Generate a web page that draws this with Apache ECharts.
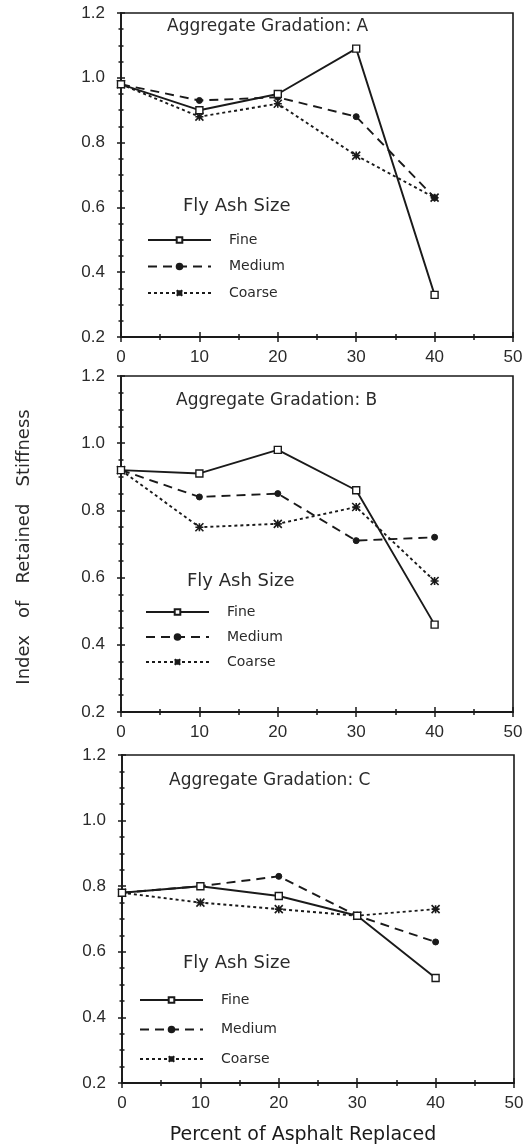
<!DOCTYPE html>
<html>
<head>
<meta charset="utf-8">
<script src="https://cdn.jsdelivr.net/npm/echarts@6/dist/echarts.min.js"></script>
<style>
  html, body { margin: 0; padding: 0; background: #fff; }
  #chart { width: 528px; height: 1148px; }
</style>
</head>
<body>
<div id="chart"></div>
<script>
// percent of asphalt replaced
const percentReplaced = [0, 10, 20, 30, 40];

// index of retained stiffness, per aggregate gradation
const fineA = [0.98, 0.90, 0.95, 1.09, 0.33];
const mediumA = [0.98, 0.93, 0.94, 0.88, 0.63];
const coarseA = [0.98, 0.88, 0.92, 0.76, 0.63];

const fineB = [0.92, 0.91, 0.98, 0.86, 0.46];
const mediumB = [0.92, 0.84, 0.85, 0.71, 0.72];
const coarseB = [0.92, 0.75, 0.76, 0.81, 0.59];

const fineC = [0.78, 0.80, 0.77, 0.71, 0.52];
const mediumC = [0.78, 0.80, 0.83, 0.71, 0.63];
const coarseC = [0.78, 0.75, 0.73, 0.71, 0.73];

const sizeNames = ["Fine", "Medium", "Coarse"];
const gradations = ["A", "B", "C"];

const ink = "#1a1a1a";
const font = "DejaVu Sans";
const numFont = "Liberation Sans";

// layout of the three stacked panels
const panels = [
  { top: 13, height: 324, left: 121, width: 392, series: [fineA, mediumA, coarseA],
    title: [167, 27], legendTitle: [183, 206], legend: [147, 233], gap: 12.5 },
  { top: 376, height: 336, left: 121, width: 392, series: [fineB, mediumB, coarseB],
    title: [176, 401], legendTitle: [187, 581], legend: [145, 605], gap: 11 },
  { top: 755, height: 328, left: 122, width: 392, series: [fineC, mediumC, coarseC],
    title: [169, 781], legendTitle: [183, 963], legend: [139, 993], gap: 15.5 },
];

const asterisk = "path://M0,0L10,10M10,0L0,10M0,5L10,5M5,0L5,10";

const styles = [
  { symbol: "rect", symbolSize: 7,
    itemStyle: { color: "#fff", borderColor: ink, borderWidth: 1.4 },
    lineStyle: { color: ink, width: 1.9, type: "solid" } },
  { symbol: "circle", symbolSize: 6,
    itemStyle: { color: ink, borderColor: ink, borderWidth: 1 },
    lineStyle: { color: ink, width: 1.9, type: [9, 6] } },
  { symbol: asterisk, symbolSize: 8,
    itemStyle: { color: ink, borderColor: ink, borderWidth: 1.6 },
    lineStyle: { color: ink, width: 1.9, type: [3, 3] } },
];

const grid = [], xAxis = [], yAxis = [], series = [], legend = [], graphic = [];

panels.forEach((p, i) => {
  grid.push({
    left: p.left, top: p.top, width: p.width, height: p.height,
    show: true, borderColor: ink, borderWidth: 1.6, backgroundColor: "transparent",
  });

  // main axis (labels, outside ticks) plus an overlay for the inside half of the ticks
  [false, true].forEach((inside) => {
    xAxis.push({
      gridIndex: i, type: "value", position: "bottom", min: 0, max: 50, interval: 10,
      axisLine: { show: !inside, lineStyle: { color: ink, width: 1.8 } },
      axisTick: { show: true, inside: inside, length: 5, lineStyle: { color: ink, width: 1.5 } },
      minorTick: { show: true, splitNumber: 2, length: 3, lineStyle: { color: ink, width: 1.5 } },
      splitLine: { show: false },
      axisLabel: { show: !inside, margin: 12, color: "#2a2a2a", fontFamily: numFont, fontSize: 17 },
    });
    yAxis.push({
      gridIndex: i, type: "value", position: "left", min: 0.2, max: 1.2, interval: 0.2,
      axisLine: { show: !inside, lineStyle: { color: ink, width: 1.8 } },
      axisTick: { show: true, inside: inside, length: 4, lineStyle: { color: ink, width: 1.5 } },
      minorTick: { show: true, splitNumber: 4, length: 2.5, lineStyle: { color: ink, width: 1.5 } },
      splitLine: { show: false },
      axisLabel: { show: !inside, margin: 16, color: "#2a2a2a", fontFamily: numFont, fontSize: 17,
        formatter: (v) => v.toFixed(1) },
    });
  });

  p.series.forEach((vals, k) => {
    series.push({
      name: sizeNames[k], type: "line", xAxisIndex: i * 2, yAxisIndex: i * 2,
      data: percentReplaced.map((x, j) => [x, vals[j]]),
      symbol: styles[k].symbol, symbolSize: styles[k].symbolSize,
      itemStyle: styles[k].itemStyle, lineStyle: styles[k].lineStyle,
      z: 3 - k, animation: false,
    });
  });

  legend.push({
    data: sizeNames, orient: "vertical", left: p.legend[0], top: p.legend[1], padding: 0,
    itemWidth: 63, itemHeight: 7, itemGap: p.gap, selectedMode: false,
    textStyle: { fontFamily: font, fontSize: 14, color: "#2a2a2a", padding: [0, 0, 0, 13] },
  });

  graphic.push({
    type: "text", x: p.title[0], y: p.title[1],
    style: { text: "Aggregate Gradation: " + gradations[i], font: "17px '" + font + "'",
      fill: "#2a2a2a", verticalAlign: "middle" },
  });
  graphic.push({
    type: "text", x: p.legendTitle[0], y: p.legendTitle[1],
    style: { text: "Fly Ash Size", font: "18px '" + font + "'", fill: "#2a2a2a", verticalAlign: "middle" },
  });
});

graphic.push({
  type: "text", x: 24, y: 547, rotation: Math.PI / 2,
  style: { text: "Index   of   Retained   Stiffness", font: "18px '" + font + "'", fill: "#2a2a2a",
    align: "center", verticalAlign: "middle" },
});
graphic.push({
  type: "text", x: 303, y: 1135,
  style: { text: "Percent of Asphalt Replaced", font: "19px '" + font + "'", fill: "#1a1a1a",
    align: "center", verticalAlign: "middle" },
});

const chart = echarts.init(document.getElementById("chart"));
chart.setOption({
  backgroundColor: "#fff",
  animation: false,
  grid, xAxis, yAxis, series, legend, graphic,
});
</script>
</body>
</html>
